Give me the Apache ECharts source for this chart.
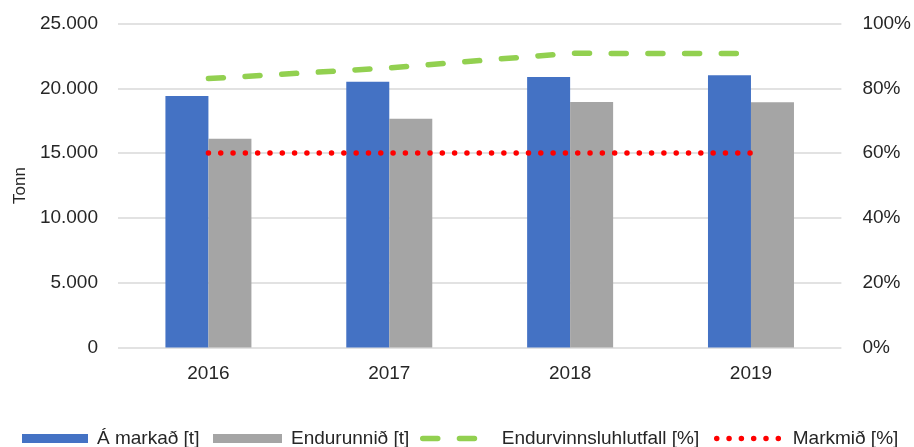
<!DOCTYPE html>
<html>
<head>
<meta charset="utf-8">
<script src="https://cdn.jsdelivr.net/npm/echarts@6/dist/echarts.min.js"></script>
<style>
  html, body { margin: 0; padding: 0; background: #fff; }
  #chart { width: 914px; height: 447px; }
</style>
</head>
<body>
<div id="chart"></div>
<script>
// data
const years      = ['2016', '2017', '2018', '2019'];
const aMarkad    = [19400, 20500, 20870, 21000];   // Á markað [t]
const endurunnid = [16100, 17650, 18940, 18920];   // Endurunnið [t]
const hlutfall   = [83.0, 86.3, 90.8, 90.7];       // Endurvinnsluhlutfall [%]
const markmid    = [60, 60, 60, 60];               // Markmið [%]

const FONT = 'Liberation Sans';
const TXT  = '#262626';

const fmtTonn = v => v === 0 ? '0' : v.toString().replace(/\B(?=(\d{3})+(?!\d))/g, '.');

// one legend per item, since the icons differ in width
function legendFor(item, left, w, h, gap = 4) {
  return {
    data: [item],
    left: left,
    top: 429,
    itemWidth: w,
    itemHeight: h,
    itemGap: 0,
    padding: 0,
    lineStyle: { width: 5.5, cap: 'round' },
    textStyle: { fontFamily: FONT, fontSize: 19, color: TXT, padding: [0, 0, 0, gap] }
  };
}

const chart = echarts.init(document.getElementById('chart'));
chart.setOption({
  animation: false,
  textStyle: { fontFamily: FONT },
  grid: { left: 118, right: 69, top: 23.5, bottom: 99.5, containLabel: false },
  legend: [
    legendFor({ name: 'Á markað [t]', icon: 'rect' }, 22, 66, 9),
    legendFor({ name: 'Endurunnið [t]', icon: 'rect' }, 213, 69, 9),
    legendFor({ name: 'Endurvinnsluhlutfall [%]', itemStyle: { opacity: 0 } }, 420, 62, 9, 12),
    legendFor({ name: 'Markmið [%]', itemStyle: { opacity: 0 } }, 714, 67, 9)
  ],
  xAxis: {
    type: 'category',
    data: years,
    axisLine: { show: false },
    axisTick: { show: false },
    axisLabel: { fontFamily: FONT, fontSize: 19, color: TXT, margin: 17 }
  },
  yAxis: [
    {
      type: 'value',
      min: 0, max: 25000, interval: 5000,
      name: 'Tonn',
      nameLocation: 'middle',
      nameGap: 89,
      nameRotate: 90,
      nameTextStyle: { fontFamily: FONT, fontSize: 17, color: TXT },
      axisLabel: { fontFamily: FONT, fontSize: 19, color: TXT, margin: 20, formatter: fmtTonn },
      splitLine: { lineStyle: { color: '#d9d9d9', width: 1.5 } }
    },
    {
      type: 'value',
      min: 0, max: 100, interval: 20,
      position: 'right',
      axisLabel: { fontFamily: FONT, fontSize: 19, color: TXT, margin: 21, formatter: '{value}%' },
      splitLine: { show: false }
    }
  ],
  series: [
    {
      name: 'Á markað [t]',
      type: 'bar',
      data: aMarkad,
      barWidth: 43,
      barGap: '0%',
      itemStyle: { color: '#4472c4' }
    },
    {
      name: 'Endurunnið [t]',
      type: 'bar',
      data: endurunnid,
      barWidth: 43,
      barGap: '0%',
      itemStyle: { color: '#a5a5a5' }
    },
    {
      name: 'Endurvinnsluhlutfall [%]',
      type: 'line',
      yAxisIndex: 1,
      data: hlutfall,
      symbol: 'none',
      z: 5,
      itemStyle: { color: '#92d050' },
      lineStyle: { color: '#92d050', width: 5.5, cap: 'round', type: [15, 21.7] }
    },
    {
      name: 'Markmið [%]',
      type: 'line',
      yAxisIndex: 1,
      data: markmid,
      symbol: 'none',
      z: 5,
      itemStyle: { color: '#ff0000' },
      lineStyle: { color: '#ff0000', width: 5.5, cap: 'round', type: [0.01, 12.3] }
    }
  ]
});
</script>
</body>
</html>
